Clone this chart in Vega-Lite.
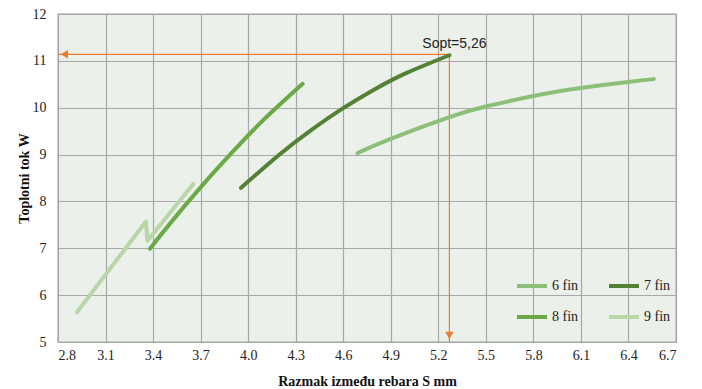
{
  "$schema": "https://vega.github.io/schema/vega-lite/v6.json",
  "width": 618,
  "height": 328,
  "autosize": {"type": "none"},
  "padding": {"left": 58, "top": 14, "right": 26, "bottom": 47},
  "config": {
    "view": {"fill": "#ebf0ea", "stroke": "#bfbfbf", "strokeWidth": 1.5},
    "axis": {
      "labelFont": "Liberation Serif",
      "labelFontSize": 14,
      "labelColor": "#222222",
      "titleFont": "Liberation Serif",
      "titleFontSize": 14,
      "titleFontWeight": "bold",
      "titleColor": "#111111",
      "gridColor": "#a8a8a8",
      "gridWidth": 1.2,
      "gridOpacity": 1,
      "domain": false,
      "ticks": false
    }
  },
  "datasets": {
    "curves": [
      {"s": 4.69, "q": 9.03, "series": "6 fin"},
      {"s": 4.895, "q": 9.33, "series": "6 fin"},
      {"s": 5.27, "q": 9.8, "series": "6 fin"},
      {"s": 5.505, "q": 10.03, "series": "6 fin"},
      {"s": 5.8, "q": 10.25, "series": "6 fin"},
      {"s": 6.1, "q": 10.42, "series": "6 fin"},
      {"s": 6.4, "q": 10.55, "series": "6 fin"},
      {"s": 6.56, "q": 10.61, "series": "6 fin"},
      {"s": 3.955, "q": 8.29, "series": "7 fin"},
      {"s": 4.2, "q": 9.006, "series": "7 fin"},
      {"s": 4.4, "q": 9.527, "series": "7 fin"},
      {"s": 4.6, "q": 9.99, "series": "7 fin"},
      {"s": 4.8, "q": 10.395, "series": "7 fin"},
      {"s": 5.0, "q": 10.742, "series": "7 fin"},
      {"s": 5.27, "q": 11.12, "series": "7 fin"},
      {"s": 3.38, "q": 6.99, "series": "8 fin"},
      {"s": 3.5, "q": 7.5, "series": "8 fin"},
      {"s": 3.7, "q": 8.3, "series": "8 fin"},
      {"s": 3.9, "q": 9.05, "series": "8 fin"},
      {"s": 4.1, "q": 9.75, "series": "8 fin"},
      {"s": 4.344, "q": 10.51, "series": "8 fin"}
    ],
    "nine": [
      {"s": 2.92, "q": 5.64, "series": "9 fin"},
      {"s": 3.355, "q": 7.57, "series": "9 fin"},
      {"s": 3.364, "q": 7.16, "series": "9 fin"},
      {"s": 3.654, "q": 8.37, "series": "9 fin"}
    ],
    "guides": [
      {"s": 5.27, "s2": 2.8, "q": 11.14, "q2": 11.14},
      {"s": 5.27, "s2": 5.27, "q": 11.14, "q2": 5.0}
    ],
    "arrows": [
      {"s": 2.84, "q": 11.14, "shape": "triangle-left"},
      {"s": 5.27, "q": 5.14, "shape": "triangle-down"}
    ],
    "labels": [
      {"s": 5.27, "q": 11.14, "text": "Sopt=5,26"}
    ]
  },
  "layer": [
    {
      "data": {"name": "guides"},
      "mark": {"type": "rule", "color": "#ed7d31", "strokeWidth": 1.2},
      "encoding": {
        "x": {"field": "s", "type": "quantitative"},
        "x2": {"field": "s2"},
        "y": {"field": "q", "type": "quantitative"},
        "y2": {"field": "q2"}
      }
    },
    {
      "data": {"name": "arrows"},
      "mark": {"type": "point", "filled": true, "color": "#ed7d31", "size": 70, "opacity": 1},
      "encoding": {
        "x": {"field": "s", "type": "quantitative"},
        "y": {"field": "q", "type": "quantitative"},
        "shape": {"field": "shape", "type": "nominal", "scale": null, "legend": null}
      }
    },
    {
      "data": {"name": "nine"},
      "mark": {"type": "line", "strokeWidth": 4, "strokeCap": "round", "strokeJoin": "round"},
      "encoding": {
        "x": {"field": "s", "type": "quantitative"},
        "y": {"field": "q", "type": "quantitative"},
        "color": {"field": "series", "type": "nominal"}
      }
    },
    {
      "data": {"name": "curves"},
      "mark": {"type": "line", "strokeWidth": 4, "strokeCap": "round", "interpolate": "natural"},
      "encoding": {
        "x": {
          "field": "s", "type": "quantitative",
          "scale": {"domain": [2.8, 6.7], "nice": false, "zero": false},
          "axis": {
            "values": [2.8, 3.1, 3.4, 3.7, 4.0, 4.3, 4.6, 4.9, 5.2, 5.5, 5.8, 6.1, 6.4, 6.7],
            "format": ".1f",
            "labelPadding": 6,
            "title": "Razmak između rebara S mm",
            "titlePadding": 12
          }
        },
        "y": {
          "field": "q", "type": "quantitative",
          "scale": {"domain": [5, 12], "nice": false, "zero": false},
          "axis": {
            "values": [5, 6, 7, 8, 9, 10, 11, 12],
            "labelPadding": 12,
            "title": "Toplotni tok W",
            "titlePadding": 1
          }
        },
        "color": {
          "field": "series", "type": "nominal",
          "scale": {
            "domain": ["6 fin", "8 fin", "7 fin", "9 fin"],
            "range": ["#8cc07a", "#6aaa46", "#548235", "#b7d7a8"]
          },
          "legend": {
            "title": null,
            "orient": "none",
            "legendX": 457,
            "legendY": 255,
            "columns": 2,
            "columnPadding": 22,
            "rowPadding": 6,
            "padding": 0,
            "symbolType": "stroke",
            "symbolSize": 900,
            "symbolStrokeWidth": 4,
            "labelOffset": 3,
            "labelFont": "Liberation Serif",
            "labelFontSize": 14,
            "labelColor": "#222222"
          }
        }
      }
    },
    {
      "data": {"name": "labels"},
      "mark": {"type": "text", "font": "Liberation Sans", "fontSize": 14, "color": "#222222", "align": "center", "baseline": "alphabetic", "dx": 5, "dy": -6},
      "encoding": {
        "x": {"field": "s", "type": "quantitative"},
        "y": {"field": "q", "type": "quantitative"},
        "text": {"field": "text"}
      }
    }
  ]
}
